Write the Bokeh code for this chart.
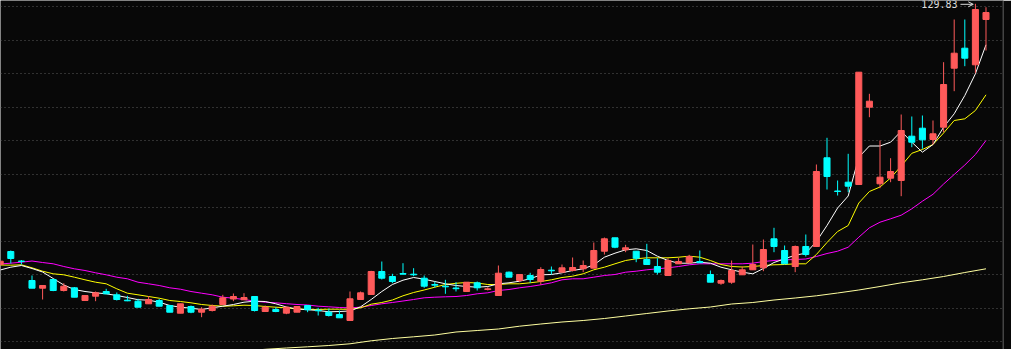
from bokeh.plotting import figure
from bokeh.models import ColumnDataSource, Span, Arrow, OpenHead, FixedTicker, Range1d, Label
from bokeh.embed import file_html
from bokeh.resources import INLINE

# ---------------- data ----------------
day_index = list(range(-1, 93))

opens = [77.69, 80.29, 78.39, 74.49, 72.95, 74.69, 72.49, 73.03, 70.49, 71.35,
         72.29, 71.63, 70.55, 70.35, 69.83, 70.49, 69.49, 67.95, 69.29, 68.15,
         68.49, 69.69, 70.79, 70.63, 71.29, 68.29, 68.69, 67.95, 68.15, 69.49,
         68.55, 68.15, 67.69, 66.49, 70.69, 71.69, 76.29, 75.29, 75.89, 75.75,
         74.95, 73.69, 73.35, 72.99, 72.29, 74.03, 72.69, 71.49, 76.15, 74.49,
         75.49, 74.35, 76.55, 76.15, 76.49, 76.83, 76.95, 80.35, 83.03, 80.63,
         80.35, 78.69, 77.29, 75.49, 77.83, 78.03, 78.29, 75.69, 73.95, 74.15,
         75.63, 76.63, 77.03, 82.83, 80.49, 77.29, 81.29, 81.29, 99.03, 92.39,
         94.15, 93.69, 109.15, 93.83, 94.95, 94.49, 103.35, 104.95, 102.69, 105.15,
         116.95, 120.95, 117.63, 126.69]

highs = [78.49, 80.49, 78.59, 75.49, 73.49, 74.83, 73.95, 73.19, 71.49, 72.29,
         72.83, 72.09, 71.43, 70.83, 71.39, 70.79, 69.63, 69.83, 69.49, 69.15,
         69.69, 71.63, 71.89, 71.95, 71.35, 69.49, 69.15, 69.29, 69.39, 69.49,
         69.03, 68.83, 68.49, 72.29, 72.29, 76.43, 78.29, 75.83, 77.95, 76.95,
         75.49, 74.23, 74.63, 74.15, 74.15, 74.29, 73.15, 77.49, 76.29, 75.69,
         76.03, 77.15, 77.29, 77.69, 79.09, 78.49, 82.09, 83.09, 83.03, 81.63,
         80.35, 81.83, 78.95, 78.95, 79.03, 79.63, 80.49, 76.49, 74.69, 78.49,
         77.29, 81.69, 82.69, 85.03, 81.49, 81.49, 83.69, 97.69, 103.03, 94.49,
         99.83, 116.15, 111.83, 102.49, 98.95, 107.69, 107.29, 107.49, 106.49, 118.15,
         126.69, 126.69, 129.83, 129.15]

lows = [77.49, 77.89, 77.69, 72.95, 70.69, 72.35, 72.29, 71.15, 70.49, 70.35,
        71.83, 70.49, 70.35, 69.15, 69.83, 69.35, 68.15, 67.95, 67.95, 67.15,
        68.29, 69.69, 70.35, 70.63, 68.29, 68.29, 68.15, 67.75, 68.15, 68.15,
        67.49, 67.29, 67.03, 66.49, 70.69, 71.69, 74.69, 73.95, 75.69, 75.35,
        73.03, 73.09, 71.83, 72.29, 72.29, 72.49, 72.49, 71.49, 75.15, 74.15,
        74.03, 73.63, 75.69, 76.15, 76.29, 76.15, 76.95, 79.69, 80.95, 80.15,
        78.15, 77.69, 75.69, 75.49, 77.83, 78.03, 78.03, 74.15, 73.63, 73.83,
        75.63, 76.63, 76.35, 80.15, 77.83, 76.15, 79.29, 81.29, 92.69, 91.49,
        92.15, 93.69, 107.15, 92.95, 94.15, 91.35, 101.15, 100.83, 101.69, 104.15,
        112.35, 117.35, 115.95, 120.49]

closes = [78.35, 78.89, 78.29, 72.95, 73.49, 72.49, 73.35, 71.15, 71.49, 72.03,
          71.83, 70.69, 70.43, 69.15, 70.69, 69.35, 68.15, 69.83, 68.15, 68.75,
          69.35, 71.03, 71.29, 71.09, 68.49, 69.15, 68.29, 69.15, 69.29, 68.63,
          68.43, 67.49, 67.03, 70.83, 72.03, 76.29, 74.95, 74.29, 75.75, 75.63,
          73.35, 73.55, 73.23, 72.85, 74.15, 73.03, 72.83, 75.95, 75.15, 75.69,
          74.69, 76.69, 76.43, 77.03, 77.09, 77.49, 80.49, 82.83, 81.15, 81.03,
          78.95, 77.69, 76.15, 78.49, 78.29, 79.29, 78.03, 74.15, 74.49, 76.49,
          76.63, 77.69, 80.69, 81.29, 77.83, 81.29, 79.69, 96.29, 95.29, 92.29,
          93.35, 116.15, 110.35, 95.15, 96.29, 104.49, 102.15, 102.63, 103.83, 113.69,
          119.95, 118.95, 128.69, 128.09]

ma5 = [76.59, 77.15, 77.49, 76.89, 76.19, 74.89, 73.59, 72.69, 72.29, 72.03,
       71.83, 71.49, 71.09, 70.65, 70.55, 70.15, 69.49, 69.15, 68.95, 68.69,
       69.03, 69.35, 69.69, 70.15, 70.35, 70.29, 69.83, 69.19, 68.79, 68.65,
       68.49, 68.23, 68.29, 68.39, 69.23, 70.69, 72.29, 73.69, 74.55, 75.09,
       74.75, 74.29, 73.83, 73.49, 73.29, 73.15, 73.29, 73.83, 74.03, 74.35,
       74.83, 75.63, 75.69, 76.03, 76.49, 76.83, 77.63, 79.15, 79.95, 80.63,
       80.83, 80.49, 79.35, 78.49, 77.95, 77.95, 78.15, 77.95, 77.15, 76.63,
       76.15, 75.83, 76.89, 78.09, 78.83, 79.55, 79.95, 82.29, 85.49, 88.99,
       91.39, 99.15, 101.39, 101.39, 102.15, 104.35, 102.15, 100.15, 101.69, 105.15,
       107.83, 111.49, 115.83, 121.63]

ma10 = [77.59, 77.55, 77.63, 77.03, 76.35, 75.83, 75.63, 75.15, 74.63, 74.15,
        73.83, 72.83, 71.95, 71.63, 71.29, 70.95, 70.49, 70.29, 70.03, 69.69,
        69.49, 69.35, 69.43, 69.55, 69.49, 69.29, 69.15, 69.03, 68.79, 68.73,
        68.69, 68.75, 68.75, 68.73, 69.03, 69.75, 70.09, 70.59, 71.43, 72.09,
        72.59, 73.15, 73.69, 73.93, 74.09, 73.99, 73.69, 73.69, 73.83, 73.83,
        74.03, 74.29, 74.63, 75.09, 75.35, 75.83, 76.63, 77.15, 77.83, 78.49,
        78.83, 79.03, 79.03, 79.03, 79.15, 79.35, 79.15, 78.49, 77.69, 77.29,
        77.19, 77.29, 77.49, 77.63, 77.69, 77.83, 77.83, 79.69, 82.09, 84.29,
        85.49, 89.99, 92.29, 93.19, 94.99, 97.39, 99.93, 100.69, 101.69, 103.99,
        106.49, 106.83, 108.49, 111.63]

ma20 = [77.79, 77.95, 78.15, 78.39, 78.09, 77.83, 77.29, 76.83, 76.49, 76.03,
        75.63, 75.15, 74.83, 74.15, 73.83, 73.49, 73.03, 72.75, 72.29, 71.95,
        71.63, 71.15, 70.95, 70.69, 70.35, 70.15, 70.03, 69.85, 69.69, 69.59,
        69.35, 69.23, 69.09, 69.03, 69.15, 69.49, 69.83, 70.09, 70.39, 70.69,
        71.03, 71.15, 71.23, 71.29, 71.49, 71.83, 72.03, 72.49, 72.69, 73.03,
        73.29, 73.63, 74.03, 74.63, 74.83, 74.83, 75.15, 75.49, 75.69, 76.15,
        76.35, 76.63, 76.83, 77.03, 77.29, 77.63, 77.83, 77.83, 77.83, 77.83,
        77.83, 77.95, 78.29, 78.49, 78.63, 78.69, 78.79, 79.29, 79.89, 80.35,
        81.15, 83.15, 85.03, 86.15, 86.83, 87.55, 88.83, 90.35, 91.73, 93.79,
        95.69, 97.59, 99.69, 102.49]

ma_long_index = list(range(22, 93, 2))
ma_long = [60.39, 60.73, 60.99, 61.23, 61.49, 61.83, 62.43, 62.89, 63.23, 63.59,
           64.19, 64.49, 64.79, 65.35, 65.79, 66.19, 66.49, 66.89, 67.39, 67.89,
           68.39, 68.83, 69.19, 69.79, 70.09, 70.59, 70.99, 71.43, 71.99, 72.59,
           73.29, 74.03, 74.63, 75.29, 76.09, 76.83]

# ---------------- styling ----------------
BG = "#080808"
UP = "#ff5a5a"
DOWN = "#00ffff"

colors = [UP if c >= o else DOWN for o, c in zip(opens, closes)]
src = ColumnDataSource(dict(
    x=day_index, o=opens, h=highs, l=lows, c=closes,
    top=[max(o, c) for o, c in zip(opens, closes)],
    bottom=[min(o, c) for o, c in zip(opens, closes)],
    color=colors,
))

Y_LO, Y_HI = 60.69, 130.49
H_PX = 349.0
p = figure(width=1011, height=349, output_backend="svg", toolbar_location=None,
           x_range=Range1d(-0.9717, 93.651), y_range=Range1d(Y_LO, Y_HI),
           min_border_left=0, min_border_top=0, min_border_bottom=0, min_border_right=8,
           background_fill_color=BG, border_fill_color=BG, outline_line_color=None)
p.xaxis.visible = False
p.yaxis.visible = False
p.xgrid.visible = False
# grid rows every 33.5 px, snapped to pixel centres
grid_rows = [round(5.3 + 33.5 * k) + 0.5 for k in range(11)]
p.ygrid.ticker = FixedTicker(ticks=[Y_HI - (Y_HI - Y_LO) * r / H_PX for r in grid_rows])
p.ygrid.grid_line_color = "#5a5a5a"
p.ygrid.grid_line_dash = "1 3"
p.ygrid.grid_line_width = 1

# right border line
p.add_layout(Span(location=93.6, dimension="height", line_color="#404040", line_width=1))

# moving averages
p.line(ma_long_index, ma_long, color="#ffffa0", line_width=1)
p.line(day_index, ma20, color="#ff00ff", line_width=1)
p.line(day_index, ma10, color="#ffff00", line_width=1)
p.line(day_index, ma5, color="#ffffff", line_width=1)

# candles
p.segment(x0="x", y0="l", x1="x", y1="h", color="color", line_width=1, source=src)
p.vbar(x="x", top="top", bottom="bottom", width=0.57, fill_color="color",
       line_color="color", line_width=1, source=src)

# max-high label
i_max = max(range(len(highs)), key=lambda k: highs[k])
x_max = day_index[i_max]
h_max = highs[i_max]
p.add_layout(Label(x=x_max - 1.69, y=h_max, text=f"{h_max:.2f}", text_align="right",
                   text_baseline="middle", text_font="DejaVu Sans Mono",
                   text_font_size="10px", text_color="#dcdcdc"))
p.add_layout(Arrow(x_start=x_max - 1.41, y_start=h_max - 0.1, x_end=x_max - 0.2, y_end=h_max - 0.1,
                   line_color="#dcdcdc", line_width=1,
                   end=OpenHead(size=5, line_color="#dcdcdc", line_width=1)))

open("out.html", "w").write(file_html(p, INLINE))
